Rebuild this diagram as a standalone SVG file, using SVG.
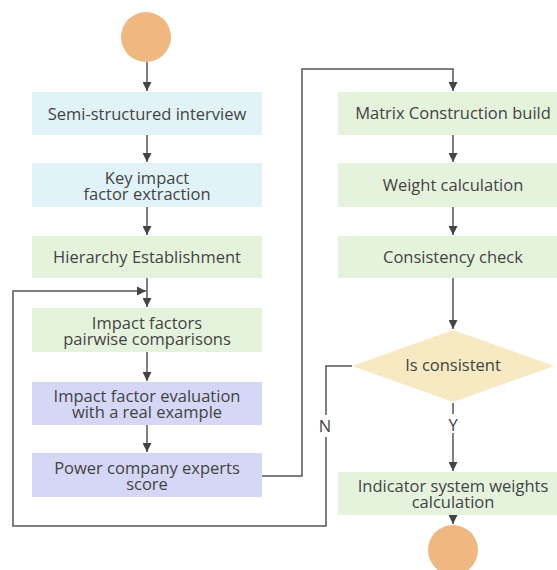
<svg xmlns="http://www.w3.org/2000/svg" width="557" height="570" viewBox="0 0 557 570">
<style>
.t{font-family:"Open Sans","Noto Sans",sans-serif;font-size:16.5px;fill:#434343;text-anchor:middle}
.blue{fill:#e1f3f6}
.green{fill:#e5f3dd}
.purple{fill:#d5d7f6}
.term{fill:#f0b880}
.dia{fill:#f7eac2}
.c{fill:none;stroke:#555;stroke-width:1.5}
</style>
<defs>
<marker id="a" viewBox="0 0 10 10" refX="10" refY="5" markerWidth="9" markerHeight="9" markerUnits="userSpaceOnUse" orient="auto"><path d="M0,0L10,5L0,10z" fill="#444"/></marker>
</defs>
<rect width="557" height="570" fill="#fff"/>
<g id="start"><circle class="term" cx="146" cy="37" r="25"/></g>
<g id="n1"><rect class="blue" x="32" y="92" width="230" height="43"/><text class="t" x="147" y="120">Semi-structured interview</text></g>
<g id="n2"><rect class="blue" x="32" y="163" width="230" height="44"/><text class="t" x="147" y="183.5">Key impact</text><text class="t" x="147" y="199.5">factor extraction</text></g>
<g id="n3"><rect class="green" x="32" y="236" width="230" height="42"/><text class="t" x="147" y="263">Hierarchy Establishment</text></g>
<g id="n4"><rect class="green" x="32" y="308" width="230" height="44"/><text class="t" x="147" y="328.5">Impact factors</text><text class="t" x="147" y="344.5">pairwise comparisons</text></g>
<g id="n5"><rect class="purple" x="32" y="382" width="230" height="43"/><text class="t" x="147" y="401.5">Impact factor evaluation</text><text class="t" x="147" y="417.5">with a real example</text></g>
<g id="n6"><rect class="purple" x="32" y="453" width="230" height="44"/><text class="t" x="147" y="473.5">Power company experts</text><text class="t" x="147" y="489.5">score</text></g>
<g id="n7"><rect class="green" x="338" y="92" width="230" height="43"/><text class="t" x="453" y="119">Matrix Construction build</text></g>
<g id="n8"><rect class="green" x="338" y="163" width="230" height="44"/><text class="t" x="453" y="191">Weight calculation</text></g>
<g id="n9"><rect class="green" x="338" y="236" width="230" height="42"/><text class="t" x="453" y="263">Consistency check</text></g>
<g id="d1"><path class="dia" d="M453,330L554,366L453,402L352,366z"/><text class="t" x="453" y="371">Is consistent</text></g>
<g id="n10"><rect class="green" x="338" y="472" width="230" height="43"/><text class="t" x="453" y="491.5">Indicator system weights</text><text class="t" x="453" y="507.5">calculation</text></g>
<g id="end"><circle class="term" cx="453" cy="550" r="25"/></g>
<g id="connectors">
<path class="c" d="M147,62V91" marker-end="url(#a)"/>
<path class="c" d="M147,135V162" marker-end="url(#a)"/>
<path class="c" d="M147,207V235" marker-end="url(#a)"/>
<path class="c" d="M147,278V307" marker-end="url(#a)"/>
<path class="c" d="M147,352V381" marker-end="url(#a)"/>
<path class="c" d="M147,425V452" marker-end="url(#a)"/>
<path class="c" d="M262,476H302V69H453V91" marker-end="url(#a)"/>
<path class="c" d="M453,135V162" marker-end="url(#a)"/>
<path class="c" d="M453,207V235" marker-end="url(#a)"/>
<path class="c" d="M453,278V329" marker-end="url(#a)"/>
<path class="c" d="M453,403V414"/>
<path class="c" d="M453,433V471" marker-end="url(#a)"/>
<text class="t" x="453" y="431">Y</text>
<path class="c" d="M352,366H326V415"/>
<path class="c" d="M326,437V526H13V291H146" marker-end="url(#a)"/>
<text class="t" x="325" y="432">N</text>
<path class="c" d="M453,515V524" marker-end="url(#a)"/>
</g>
</svg>
